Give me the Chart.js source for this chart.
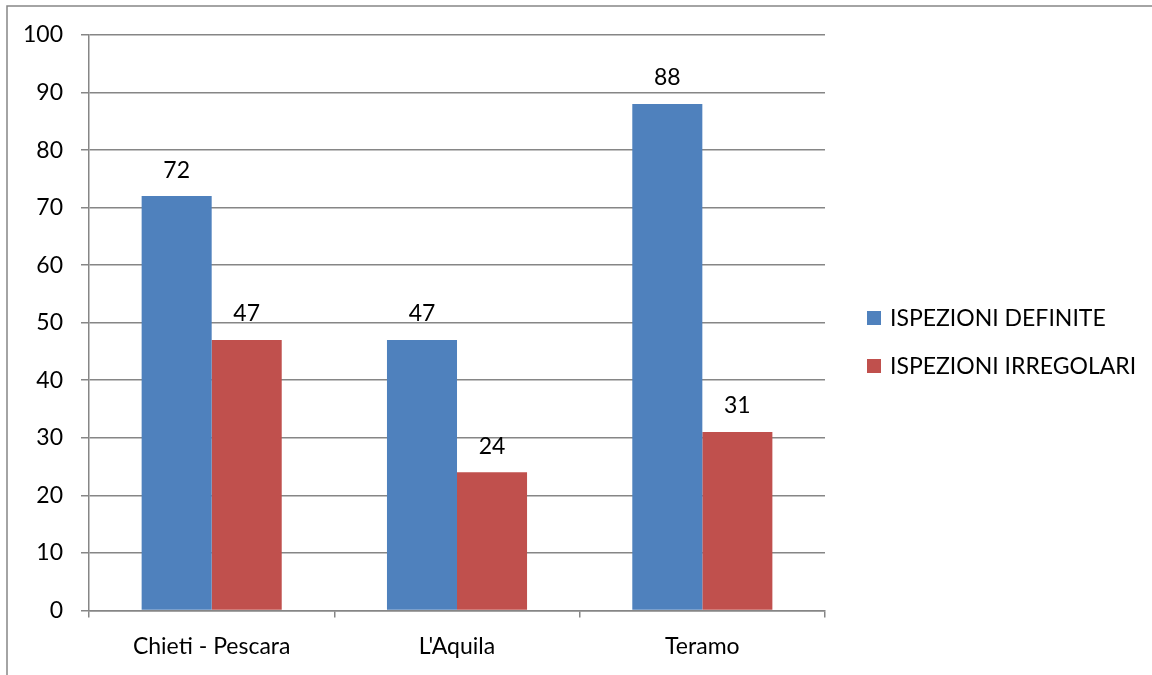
<!DOCTYPE html>
<html>
<head>
<meta charset="utf-8">
<script src="https://cdn.jsdelivr.net/npm/chart.js@4.4.1/dist/chart.umd.min.js"></script>
<style>
  html, body { margin: 0; padding: 0; background: #fff; }
  #wrap { width: 1152px; height: 675px; position: relative; }
</style>
</head>
<body>
<div id="wrap"><canvas id="chart" width="1152" height="675"></canvas></div>
<script>
  "use strict";

  const categories = ["Chieti - Pescara", "L'Aquila", "Teramo"];
  const seriesNames = ["ISPEZIONI DEFINITE", "ISPEZIONI IRREGOLARI"];
  const definite = [72, 47, 88];
  const irregolari = [47, 24, 31];
  const yTicks = [0, 10, 20, 30, 40, 50, 60, 70, 80, 90, 100];

  const FONT = "Lato";
  const FSIZE = 23;
  const gridColor = "#868686";

  // frame round the picture, value labels and the legend on the right
  const decor = {
    id: "decor",
    beforeDraw(chart) {
      const ctx = chart.ctx;
      ctx.save();
      ctx.strokeStyle = gridColor;
      ctx.lineWidth = 1.5;
      ctx.beginPath();
      ctx.moveTo(7, 680);
      ctx.lineTo(7, 6);
      ctx.lineTo(1160, 6);
      ctx.stroke();
      ctx.restore();
    },
    afterDatasetsDraw(chart) {
      const ctx = chart.ctx;
      ctx.save();
      ctx.fillStyle = "#000";
      ctx.font = FSIZE + "px " + FONT;
      ctx.textAlign = "center";
      ctx.textBaseline = "middle";
      chart.data.datasets.forEach((ds, i) => {
        chart.getDatasetMeta(i).data.forEach((bar, j) => {
          ctx.fillText(String(ds.data[j]), bar.x, bar.y - 26);
        });
      });

      // legend
      const lx = 867, ly = [318, 366];
      chart.data.datasets.forEach((ds, i) => {
        ctx.fillStyle = ds.backgroundColor;
        ctx.fillRect(lx, ly[i] - 7, 14, 14);
        ctx.fillStyle = "#000";
        ctx.textAlign = "left";
        ctx.fillText(ds.label, lx + 23, ly[i] + 1);
      });
      ctx.restore();
    }
  };

  const chart = new Chart(document.getElementById("chart").getContext("2d"), {
    type: "bar",
    data: {
      labels: categories,
      datasets: [{
        label: seriesNames[0],
        data: definite,
        backgroundColor: "#4F81BD"
      }, {
        label: seriesNames[1],
        data: irregolari,
        backgroundColor: "#C0504D"
      }]
    },
    options: {
      responsive: false,
      animation: false,
      layout: {
        padding: { top: 35, right: 327, left: 5, bottom: 0 }
      },
      datasets: {
        bar: { categoryPercentage: 0.571, barPercentage: 1.0 }
      },
      plugins: {
        legend: { display: false },
        tooltip: { enabled: false }
      },
      scales: {
        x: {
          offset: true,
          grid: {
            offset: true,
            drawOnChartArea: false,
            color: gridColor,
            lineWidth: 1.5,
            tickLength: 7
          },
          border: { color: gridColor, width: 1.5 },
          ticks: {
            color: "#000",
            font: { family: FONT, size: FSIZE },
            padding: 15
          }
        },
        y: {
          min: 0,
          max: 100,
          afterBuildTicks(scale) {
            scale.ticks = yTicks.map(v => ({ value: v }));
          },
          grid: {
            color: gridColor,
            lineWidth: 1.5,
            tickLength: 8
          },
          border: { color: gridColor, width: 1.5 },
          ticks: {
            color: "#000",
            font: { family: FONT, size: FSIZE },
            padding: 18
          }
        }
      }
    },
    plugins: [decor]
  });
</script>
</body>
</html>
